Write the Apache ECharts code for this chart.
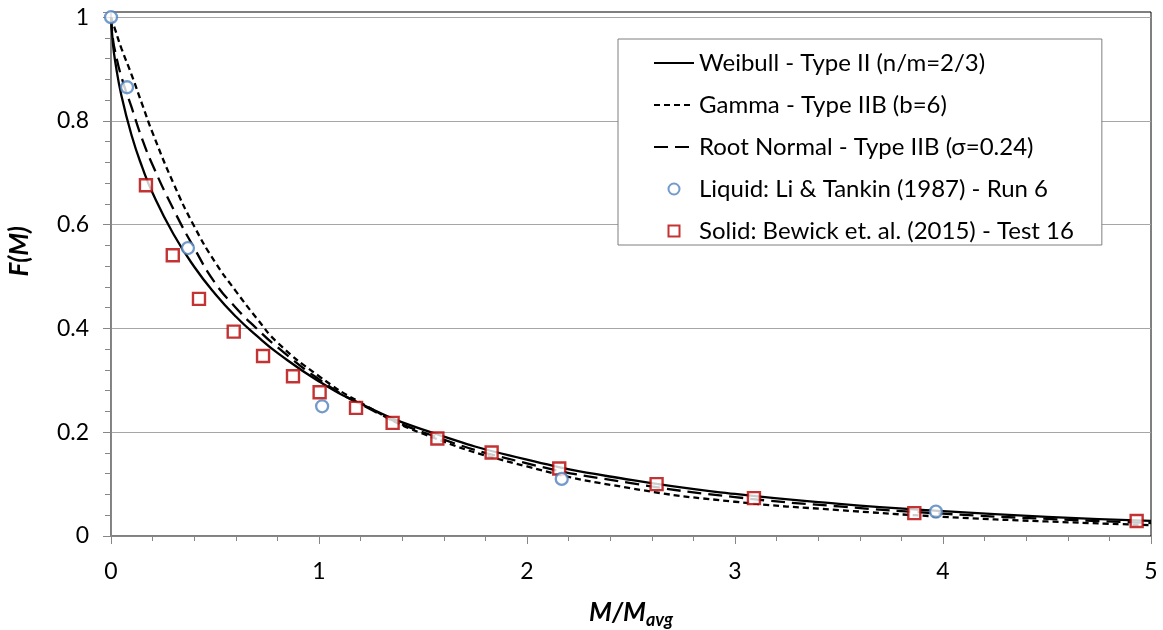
<!DOCTYPE html>
<html>
<head>
<meta charset="utf-8">
<script src="https://cdn.jsdelivr.net/npm/echarts@6/dist/echarts.min.js"></script>
<style>
  html, body { margin: 0; padding: 0; background: #fff; }
  #chart { width: 1163px; height: 630px; }
</style>
</head>
<body>
<div id="chart"></div>
<script>
// Normalised fragment mass M/Mavg at which the model curves are sampled
const curveM = [0, 0.01, 0.02, 0.05, 0.1, 0.15, 0.2, 0.3, 0.4, 0.5, 0.6, 0.7, 0.8,
                1.0, 1.2, 1.5, 2.0, 2.5, 3.0, 3.5, 4.0, 4.5, 5.0];
// Cumulative fraction F(M) for each model
const weibullF = [1, 0.946, 0.915, 0.849, 0.771, 0.711, 0.661, 0.582, 0.519, 0.467, 0.423, 0.386, 0.353,
                  0.298, 0.255, 0.205, 0.147, 0.108, 0.081, 0.062, 0.048, 0.037, 0.029];
const gammaF   = [1, 0.988, 0.976, 0.940, 0.888, 0.832, 0.777, 0.680, 0.597, 0.528, 0.472, 0.420, 0.373,
                  0.308, 0.257, 0.197, 0.134, 0.092, 0.066, 0.050, 0.037, 0.028, 0.021];
const rootNormalF = [1, 0.956, 0.934, 0.885, 0.825, 0.765, 0.715, 0.630, 0.555, 0.488, 0.440, 0.400, 0.364,
                     0.302, 0.254, 0.200, 0.140, 0.102, 0.075, 0.057, 0.043, 0.033, 0.025];

// Experimental data
const liquidM = [0, 0.077, 0.37, 1.015, 2.167, 3.966];
const liquidF = [1, 0.865, 0.555, 0.25, 0.11, 0.047];
const solidM = [0.168, 0.297, 0.423, 0.59, 0.731, 0.875, 1.003, 1.178, 1.354, 1.569, 1.830,
                2.155, 2.623, 3.091, 3.862, 4.931];
const solidF = [0.676, 0.541, 0.457, 0.394, 0.347, 0.308, 0.277, 0.247, 0.218, 0.188, 0.161,
                0.130, 0.100, 0.073, 0.044, 0.029];

const seriesNames = [
  'Weibull - Type II (n/m=2/3)',
  'Gamma - Type IIB (b=6)',
  'Root Normal - Type IIB (σ=0.24)',
  'Liquid: Li & Tankin (1987) - Run 6',
  'Solid: Bewick et. al. (2015) - Test 16'
];

const zip = (xs, ys) => xs.map((x, i) => [x, ys[i]]);
const FONT = 'Lato, "Open Sans", sans-serif';
const LIQUID_COLOR = '#4f81bd';
const SOLID_COLOR = '#b40000';

const chart = echarts.init(document.getElementById('chart'), null, { renderer: 'canvas' });

const lineSeries = (name, ys, type) => ({
  name, type: 'line', data: zip(curveM, ys),
  showSymbol: false, symbol: 'none', smooth: 0.5,
  lineStyle: { color: '#000', width: 2.3, type },
  itemStyle: { color: '#000' }, z: 2
});

// legend entries: model curves show only their line, data sets show a small hollow marker
const legendData = [
  { name: seriesNames[0], itemStyle: { opacity: 0 } },
  { name: seriesNames[1], itemStyle: { opacity: 0 } },
  { name: seriesNames[2], itemStyle: { opacity: 0 } },
  { name: seriesNames[3], icon: 'circle' },
  { name: seriesNames[4], icon: 'path://M0,0H10V10H0Z' }
];

chart.setOption({
  animation: false,
  backgroundColor: '#fff',
  textStyle: { fontFamily: FONT },
  grid: {
    left: 111, right: 12, top: 12, bottom: 94, outerBoundsMode: 'none',
    show: true, borderColor: '#000', borderWidth: 1
  },
  legend: {
    orient: 'vertical', left: 618, top: 39,
    backgroundColor: '#fff', borderColor: '#7f7f7f', borderWidth: 1,
    padding: [11, 28, 1, 35],
    itemWidth: 40, itemHeight: 11, itemGap: 16,
    textStyle: { fontFamily: FONT, fontSize: 24, color: '#000', lineHeight: 26 },
    data: legendData
  },
  xAxis: {
    type: 'value', min: 0, max: 5, interval: 1,
    axisLine: { lineStyle: { color: '#868686', width: 1 } },
    axisTick: { show: true, length: 8, lineStyle: { color: '#868686' } },
    minorTick: { show: true, splitNumber: 5, length: 5, lineStyle: { color: '#868686' } },
    splitLine: { show: false },
    axisLabel: { fontSize: 23, color: '#000', margin: 24, fontFamily: FONT },
    name: '{a|M/M}{b|avg}', nameLocation: 'middle', nameGap: 61,
    nameTextStyle: {
      rich: {
        a: { fontSize: 26, fontWeight: 'bold', fontStyle: 'italic', fontFamily: FONT, color: '#000' },
        b: { fontSize: 18, fontWeight: 'bold', fontStyle: 'italic', fontFamily: FONT, color: '#000', padding: [14, 0, 0, 0] }
      }
    }
  },
  yAxis: {
    type: 'value', min: 0, max: 1.01, interval: 0.2,
    axisLine: { show: true, lineStyle: { color: '#868686', width: 1 } },
    axisTick: { show: true, length: 8, lineStyle: { color: '#868686' } },
    minorTick: { show: true, splitNumber: 5, length: 6, lineStyle: { color: '#868686' } },
    splitLine: { show: true, showMaxLine: false, lineStyle: { color: '#a6a6a6', width: 1 } },
    axisLabel: {
      fontSize: 23, color: '#000', margin: 22, fontFamily: FONT, showMaxLabel: false,
      formatter: v => (v > 1.001 ? '' : String(Math.round(v * 10) / 10))
    }
  },
  graphic: [{
    type: 'text', left: 7, top: 226, rotation: Math.PI / 2,
    style: { text: 'F(M)', font: 'italic bold 26px ' + FONT, fill: '#000' }
  }],
  series: [
    lineSeries(seriesNames[0], weibullF, 'solid'),
    lineSeries(seriesNames[1], gammaF, [6, 4]),
    lineSeries(seriesNames[2], rootNormalF, [14, 7]),
    {
      name: seriesNames[3], type: 'scatter', data: zip(liquidM, liquidF),
      symbol: 'circle', symbolSize: 12, clip: false,
      itemStyle: { color: '#fff', borderColor: LIQUID_COLOR, borderWidth: 2.3 }, z: 4
    },
    {
      name: seriesNames[4], type: 'scatter', data: zip(solidM, solidF),
      symbol: 'rect', symbolSize: 12, clip: false,
      itemStyle: { color: '#fff', borderColor: SOLID_COLOR, borderWidth: 2.4 }, z: 3
    }
  ]
});
</script>
</body>
</html>
